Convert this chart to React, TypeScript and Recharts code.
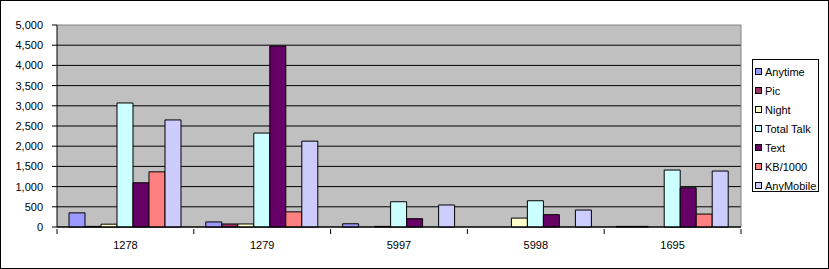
import React from "react";
import { BarChart, Bar, XAxis, YAxis, CartesianGrid, Legend } from "recharts";

const categories = ["1278", "1279", "5997", "5998", "1695"];
const seriesNames = ["Anytime", "Pic", "Night", "Total Talk", "Text", "KB/1000", "AnyMobile"];
const anytime = [350, 125, 80, 0, 15];
const pic = [15, 75, 0, 0, 15];
const night = [70, 75, 15, 220, 0];
const totalTalk = [3070, 2325, 625, 650, 1410];
const text = [1095, 4480, 205, 305, 970];
const kb1000 = [1365, 375, 0, 0, 320];
const anyMobile = [2650, 2125, 545, 420, 1385];
const yTicks = [0, 500, 1000, 1500, 2000, 2500, 3000, 3500, 4000, 4500, 5000];

const colors = ["#9999FF", "#993366", "#FFFFCC", "#CCFFFF", "#660066", "#FF8080", "#CCCCFF"];
const seriesValues = [anytime, pic, night, totalTalk, text, kb1000, anyMobile];

const data = categories.map((c, i) => {
  const row: any = { cat: c };
  seriesNames.forEach((s, j) => {
    row[s] = seriesValues[j][i];
  });
  return row;
});

const FONT = "'Liberation Sans', Arial, sans-serif";
const W = 829;
const H = 269;
const M = { top: 25, right: 88, bottom: 12, left: 0 };
const YW = 57;
const PLOT_W = W - M.right - YW;
const BAND = PLOT_W / categories.length;

const XTick = (props: any) => {
  const { x, y, payload, index } = props;
  const axisY = y;
  return (
    <g>
      <line x1={x - BAND / 2} y1={axisY} x2={x - BAND / 2} y2={axisY + 5} stroke="#000" />
      {index === categories.length - 1 && (
        <line x1={x + BAND / 2} y1={axisY} x2={x + BAND / 2} y2={axisY + 5} stroke="#000" />
      )}
      <text x={x} y={axisY + 20} textAnchor="middle" fontSize={11} fontFamily={FONT} fill="#000">
        {payload.value}
      </text>
    </g>
  );
};

const HLine = (props: any) => {
  const { x1, x2, y1, y2, index } = props;
  const isTop = Math.abs(y1 - M.top) < 1;
  return (
    <line
      key={`h-${index}`}
      x1={x1}
      x2={x2}
      y1={y1}
      y2={y2}
      stroke={isTop ? "#808080" : "#000"}
      strokeWidth={1}
    />
  );
};

const VLine = (props: any) => {
  const { x1, x2, y1, y2, index } = props;
  return <line key={`v-${index}`} x1={x1} x2={x2} y1={y1} y2={y2} stroke="#808080" strokeWidth={1} />;
};

const LegendContent = () => (
  <div
    style={{
      width: 67,
      height: 133,
      boxSizing: "border-box",
      border: "1px solid #000",
      background: "#fff",
      paddingTop: 2,
      fontFamily: FONT,
      fontSize: 11,
      color: "#000",
    }}
  >
    {seriesNames.map((s, i) => (
      <div key={s} style={{ height: 19, display: "flex", alignItems: "center", paddingLeft: 2 }}>
        <span
          style={{
            display: "inline-block",
            width: 7,
            height: 7,
            boxSizing: "border-box",
            border: "1px solid #000",
            background: colors[i],
            marginRight: 3,
          }}
        />
        <span style={{ whiteSpace: "nowrap" }}>{s}</span>
      </div>
    ))}
  </div>
);

export default function App() {
  return (
    <div
      style={{
        position: "absolute",
        left: 0,
        top: 0,
        width: W,
        height: H,
        boxSizing: "border-box",
        border: "1px solid #000",
        background: "#fff",
        overflow: "hidden",
      }}
    >
      <div style={{ position: "absolute", left: -1, top: -1 }}>
        <BarChart width={W} height={H} data={data} margin={M} barGap={0} barCategoryGap={12}>
          <CartesianGrid
            fill="#C0C0C0"
            horizontal={HLine}
            vertical={VLine}
            verticalPoints={[W - M.right]}
            horizontalPoints={yTicks.map((t) => M.top + (1 - t / 5000) * (H - M.top - M.bottom - 30))}
          />
          <XAxis
            dataKey="cat"
            height={30}
            axisLine={{ stroke: "#000" }}
            tickLine={false}
            tickSize={0}
            tick={<XTick />}
            interval={0}
          />
          <YAxis
            width={YW}
            domain={[0, 5000]}
            ticks={yTicks}
            interval={0}
            axisLine={{ stroke: "#000" }}
            tickLine={{ stroke: "#000" }}
            tickSize={5}
            tickMargin={9}
            tick={{ fontSize: 11, fontFamily: FONT, fill: "#000" }}
            tickFormatter={(v: number) => v.toLocaleString("en-US")}
          />
          <Legend
            layout="horizontal"
            verticalAlign="middle"
            align="center"
            content={<LegendContent />}
            wrapperStyle={{ position: "absolute", left: 752, top: 59, width: 67, height: 133 }}
          />
          {seriesNames.map((s, i) => (
            <Bar key={s} dataKey={s} fill={colors[i]} stroke="#000" strokeWidth={1} isAnimationActive={false} />
          ))}
        </BarChart>
      </div>
    </div>
  );
}
